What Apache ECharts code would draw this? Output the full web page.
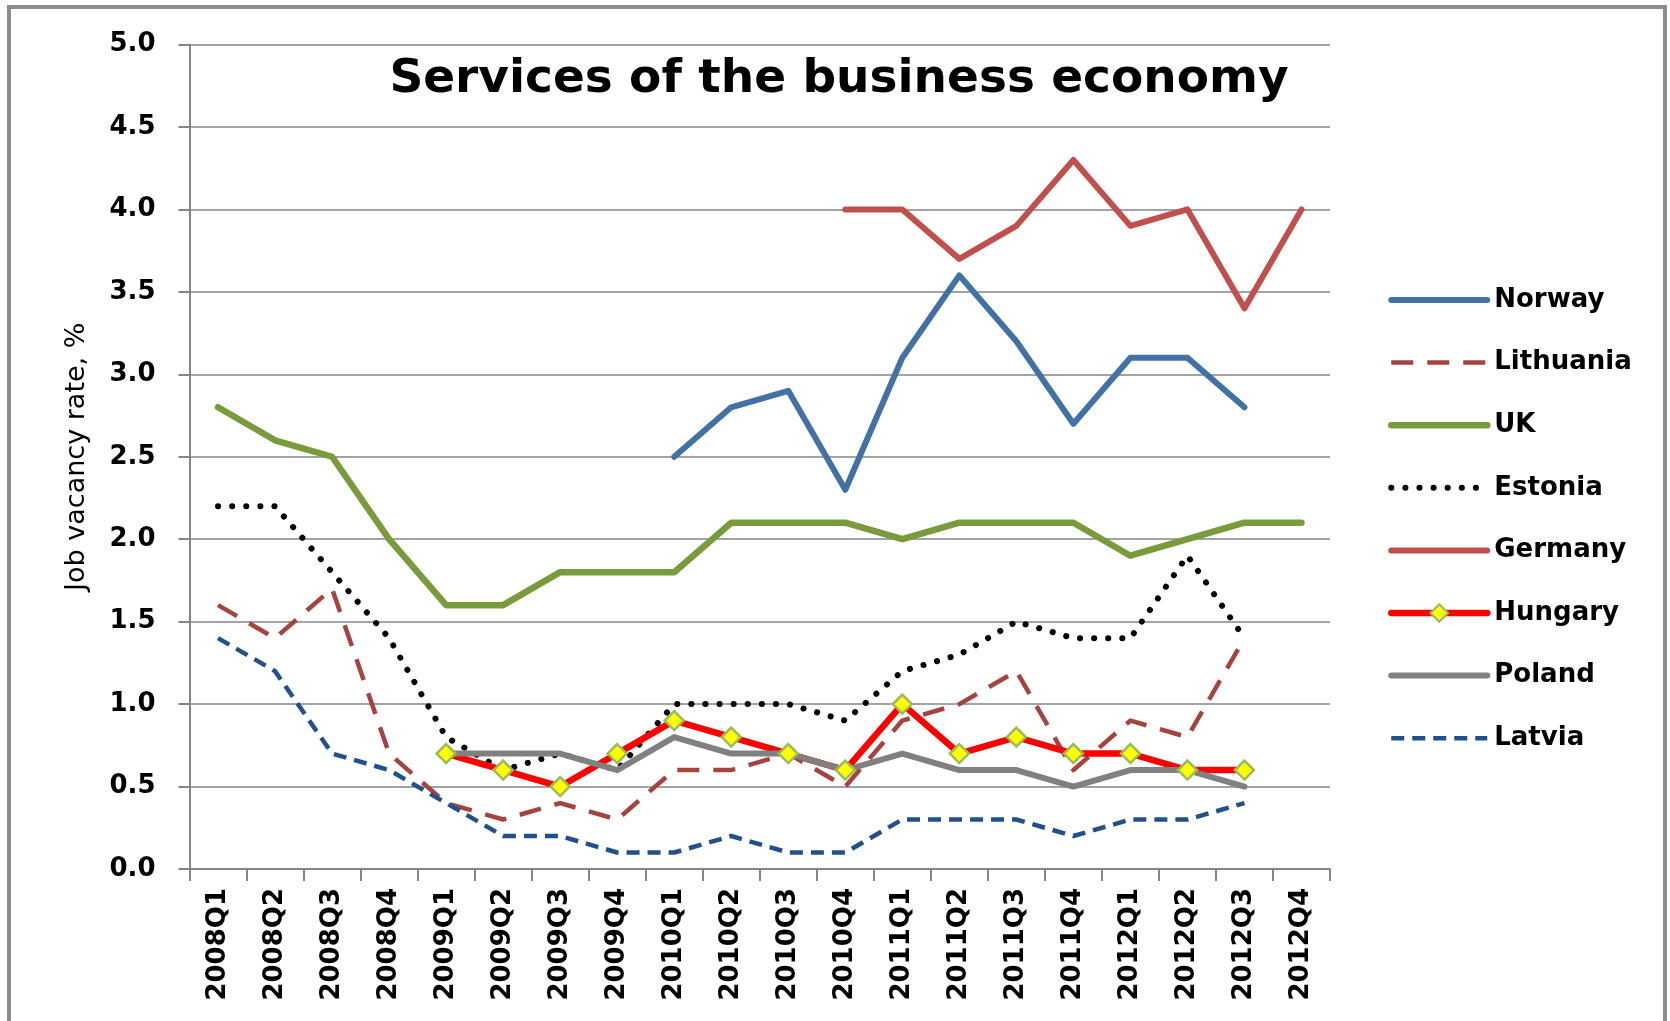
<!DOCTYPE html>
<html>
<head>
<meta charset="utf-8">
<script src="https://cdn.jsdelivr.net/npm/echarts@6/dist/echarts.min.js"></script>
<style>
  html, body { margin: 0; padding: 0; background: #fff; }
  #chart { width: 1670px; height: 1021px; }
</style>
</head>
<body>
<div id="chart"></div>
<script>
// Quarterly job vacancy rates (%) in services of the business economy
const quarters = [
  '2008Q1', '2008Q2', '2008Q3', '2008Q4',
  '2009Q1', '2009Q2', '2009Q3', '2009Q4',
  '2010Q1', '2010Q2', '2010Q3', '2010Q4',
  '2011Q1', '2011Q2', '2011Q3', '2011Q4',
  '2012Q1', '2012Q2', '2012Q3', '2012Q4'
];

const norway    = [null, null, null, null, null, null, null, null, 2.5, 2.8, 2.9, 2.3, 3.1, 3.6, 3.2, 2.7, 3.1, 3.1, 2.8, null];
const lithuania = [1.6, 1.4, 1.7, 0.7, 0.4, 0.3, 0.4, 0.3, 0.6, 0.6, 0.7, 0.5, 0.9, 1.0, 1.2, 0.6, 0.9, 0.8, 1.4, null];
const uk        = [2.8, 2.6, 2.5, 2.0, 1.6, 1.6, 1.8, 1.8, 1.8, 2.1, 2.1, 2.1, 2.0, 2.1, 2.1, 2.1, 1.9, 2.0, 2.1, 2.1];
const estonia   = [2.2, 2.2, 1.8, 1.4, 0.8, 0.6, 0.7, 0.6, 1.0, 1.0, 1.0, 0.9, 1.2, 1.3, 1.5, 1.4, 1.4, 1.9, 1.4, null];
const germany   = [null, null, null, null, null, null, null, null, null, null, null, 4.0, 4.0, 3.7, 3.9, 4.3, 3.9, 4.0, 3.4, 4.0];
const hungary   = [null, null, null, null, 0.7, 0.6, 0.5, 0.7, 0.9, 0.8, 0.7, 0.6, 1.0, 0.7, 0.8, 0.7, 0.7, 0.6, 0.6, null];
const poland    = [null, null, null, null, 0.7, 0.7, 0.7, 0.6, 0.8, 0.7, 0.7, 0.6, 0.7, 0.6, 0.6, 0.5, 0.6, 0.6, 0.5, null];
const latvia    = [1.4, 1.2, 0.7, 0.6, 0.4, 0.2, 0.2, 0.1, 0.1, 0.2, 0.1, 0.1, 0.3, 0.3, 0.3, 0.2, 0.3, 0.3, 0.4, null];

const yMin = 0, yMax = 5, yStep = 0.5;

const chartTitle = 'Services of the business economy';
const yAxisTitle = 'Job vacancy rate, %';

const FONT = 'DejaVu Sans';
const GRID_GRAY = '#a3a3a3';
const AXIS_GRAY = '#868686';

// Line look per country: colour, width, dash pattern
const styles = {
  Norway:    { color: '#4271A6', width: 6,   type: 'solid' },
  Lithuania: { color: '#A5433F', width: 4.5, type: [22, 14] },
  UK:        { color: '#7A9B3C', width: 6.5, type: 'solid' },
  Estonia:   { color: '#000000', width: 6,   type: [0.1, 14] },
  Germany:   { color: '#C0504D', width: 6,   type: 'solid' },
  Hungary:   { color: '#FF0000', width: 6.5, type: 'solid' },
  Poland:    { color: '#808080', width: 6,   type: 'solid' },
  Latvia:    { color: '#22508F', width: 4.5, type: [13, 8] }
};

function lineStyleOf(name) {
  const s = styles[name];
  const roundCap = s.type === 'solid' || name === 'Estonia';
  return { color: s.color, width: s.width, type: s.type, cap: roundCap ? 'round' : 'butt', join: 'round' };
}

function lineSeries(name, data, extra) {
  return Object.assign({
    name: name,
    type: 'line',
    data: data,
    symbol: 'none',
    smooth: false,
    connectNulls: false,
    lineStyle: lineStyleOf(name),
    itemStyle: { color: styles[name].color },
    emphasis: { disabled: true },
    animation: false
  }, extra || {});
}

const legendNames = ['Norway', 'Lithuania', 'UK', 'Estonia', 'Germany', 'Hungary', 'Poland', 'Latvia'];

const legendData = legendNames.map(name => {
  const item = { name: name, lineStyle: lineStyleOf(name) };
  if (name !== 'Hungary') item.itemStyle = { opacity: 0 };
  return item;
});

const chart = echarts.init(document.getElementById('chart'), null, { renderer: 'canvas' });

chart.setOption({
  backgroundColor: '#ffffff',
  animation: false,
  graphic: [
    {
      type: 'rect',
      shape: { x: 9, y: 7, width: 1656, height: 1100 },
      style: { fill: 'none', stroke: '#8c8c8c', lineWidth: 4 },
      silent: true,
      z: 100
    },
    {
      type: 'text',
      x: 839,
      y: 80,
      style: {
        text: chartTitle,
        font: 'bold 47px "' + FONT + '"',
        fill: '#000',
        align: 'center',
        verticalAlign: 'middle'
      },
      silent: true,
      z: 50
    }
  ],
  grid: {
    left: 189.5,
    right: 340,
    top: 44.5,
    bottom: 152,
    containLabel: false
  },
  legend: {
    orient: 'vertical',
    left: 1383,
    top: 281,
    itemWidth: 96,
    itemHeight: 22,
    itemGap: 34.6,
    selectedMode: false,
    textStyle: {
      fontFamily: FONT,
      fontWeight: 'bold',
      fontSize: 26,
      lineHeight: 28,
      color: '#000',
      padding: [0, 0, 0, 2]
    },
    data: legendData
  },
  xAxis: {
    type: 'category',
    data: quarters,
    boundaryGap: true,
    axisLine: { show: true, lineStyle: { color: AXIS_GRAY, width: 2 } },
    axisTick: { show: true, length: 12, lineStyle: { color: AXIS_GRAY, width: 2 } },
    axisLabel: {
      interval: 0,
      rotate: 90,
      margin: 19,
      fontFamily: FONT,
      fontWeight: 'bold',
      fontSize: 26,
      color: '#000'
    },
    splitLine: { show: false }
  },
  yAxis: {
    type: 'value',
    min: yMin,
    max: yMax,
    interval: yStep,
    name: yAxisTitle,
    nameLocation: 'middle',
    nameGap: 99,
    nameTextStyle: { fontFamily: FONT, fontSize: 27, color: '#000' },
    axisLine: { show: true, lineStyle: { color: AXIS_GRAY, width: 2 } },
    axisTick: { show: true, length: 11, lineStyle: { color: AXIS_GRAY, width: 2 } },
    axisLabel: {
      margin: 34,
      fontFamily: FONT,
      fontWeight: 'bold',
      fontSize: 26,
      color: '#000',
      formatter: v => v.toFixed(1)
    },
    splitLine: { show: true, lineStyle: { color: GRID_GRAY, width: 2 } }
  },
  series: [
    lineSeries('Norway', norway),
    lineSeries('Lithuania', lithuania),
    lineSeries('UK', uk),
    lineSeries('Estonia', estonia),
    lineSeries('Germany', germany),
    lineSeries('Hungary', hungary, {
      symbol: 'diamond',
      symbolSize: 19,
      showSymbol: true,
      itemStyle: { color: '#FFFF00', borderColor: '#9BBB59', borderWidth: 2.5 }
    }),
    lineSeries('Poland', poland),
    lineSeries('Latvia', latvia)
  ]
});
</script>
</body>
</html>
